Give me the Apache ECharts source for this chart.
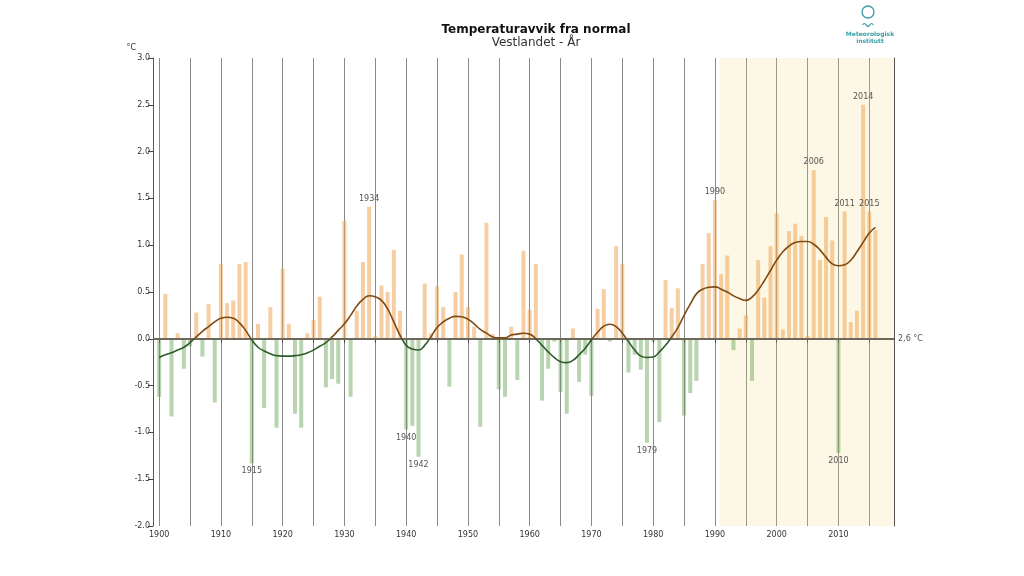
<!DOCTYPE html>
<html>
<head>
<meta charset="utf-8">
<script src="https://cdn.jsdelivr.net/npm/echarts@6/dist/echarts.min.js"></script>
<style>html,body{margin:0;padding:0;background:#fff}#c{width:1024px;height:576px}</style>
</head>
<body>
<div id="c"></div>
<script>
const years = [1900,1901,1902,1903,1904,1905,1906,1907,1908,1909,1910,1911,1912,1913,1914,1915,1916,1917,1918,1919,
1920,1921,1922,1923,1924,1925,1926,1927,1928,1929,1930,1931,1932,1933,1934,1935,1936,1937,1938,1939,
1940,1941,1942,1943,1944,1945,1946,1947,1948,1949,1950,1951,1952,1953,1954,1955,1956,1957,1958,1959,
1960,1961,1962,1963,1964,1965,1966,1967,1968,1969,1970,1971,1972,1973,1974,1975,1976,1977,1978,1979,
1980,1981,1982,1983,1984,1985,1986,1987,1988,1989,1990,1991,1992,1993,1994,1995,1996,1997,1998,1999,
2000,2001,2002,2003,2004,2005,2006,2007,2008,2009,2010,2011,2012,2013,2014,2015,2016];

const anomalies = [-0.62,0.48,-0.83,0.06,-0.32,-0.08,0.28,-0.19,0.37,-0.68,0.80,0.38,0.41,0.80,0.82,-1.33,0.16,-0.74,0.34,-0.95,
0.75,0.16,-0.80,-0.95,0.06,0.20,0.45,-0.52,-0.43,-0.48,1.26,-0.62,0.30,0.82,1.41,0.03,0.57,0.50,0.95,0.30,
-0.97,-0.93,-1.26,0.59,0.06,0.56,0.34,-0.51,0.50,0.90,0.34,0.13,-0.94,1.24,0.05,-0.54,-0.62,0.13,-0.44,0.94,
0.31,0.80,-0.66,-0.32,-0.03,-0.57,-0.80,0.11,-0.46,-0.17,-0.61,0.32,0.53,-0.03,0.99,0.80,-0.36,-0.17,-0.33,-1.11,
-0.03,-0.89,0.63,0.33,0.54,-0.82,-0.58,-0.45,0.80,1.13,1.48,0.69,0.89,-0.12,0.11,0.25,-0.45,0.84,0.44,0.99,
1.34,0.10,1.15,1.23,1.10,0.03,1.80,0.84,1.30,1.05,-1.22,1.36,0.18,0.30,2.50,1.36,1.16];

const smoothed = [-0.20,-0.17,-0.15,-0.12,-0.09,-0.04,0.02,0.08,0.13,0.18,0.22,0.23,0.22,0.17,0.09,-0.01,-0.09,-0.13,-0.16,-0.18,
-0.185,-0.185,-0.18,-0.17,-0.15,-0.12,-0.08,-0.04,0.02,0.09,0.16,0.25,0.35,0.42,0.46,0.45,0.41,0.32,0.18,0.04,
-0.07,-0.11,-0.12,-0.07,0.02,0.12,0.18,0.22,0.24,0.235,0.21,0.16,0.10,0.06,0.02,0.01,0.01,0.04,0.05,0.06,
0.05,0.00,-0.07,-0.14,-0.20,-0.245,-0.255,-0.23,-0.17,-0.10,-0.01,0.07,0.135,0.155,0.13,0.06,-0.03,-0.12,-0.185,-0.20,
-0.195,-0.14,-0.07,0.02,0.12,0.25,0.37,0.48,0.53,0.55,0.555,0.53,0.50,0.46,0.43,0.41,0.445,0.52,0.62,0.73,
0.84,0.93,0.99,1.03,1.04,1.04,1.01,0.95,0.87,0.80,0.78,0.79,0.84,0.93,1.03,1.13,1.19];

const labelledYears = [1915,1934,1940,1942,1979,1990,2006,2010,2011,2014,2015];
const xTicks = [1900,1905,1910,1915,1920,1925,1930,1935,1940,1945,1950,1955,1960,1965,1970,1975,1980,1985,1990,1995,2000,2005,2010,2015];
const xLabels = [1900,1910,1920,1930,1940,1950,1960,1970,1980,1990,2000,2010];
const xMin = 1899, xMax = 2019;
const shadeStart = 1990.75;
const normalLabel = '2,6 °C';

const FONT = 'DejaVu Sans';
const BROWN = '#7d4a12', GREEN = '#2e5a2a';
const chart = echarts.init(document.getElementById('c'), null, {renderer: 'canvas'});

const barData = years.map((y, i) => {
  const v = anomalies[i];
  const item = {
    value: [y, v],
    itemStyle: {color: v >= 0 ? 'rgba(238,165,90,0.55)' : 'rgba(100,160,80,0.45)'}
  };
  if (labelledYears.includes(y)) {
    item.label = {
      show: true,
      position: v >= 0 ? 'top' : 'bottom',
      distance: 4,
      formatter: String(y),
      fontFamily: FONT, fontSize: 8, color: '#555'
    };
  }
  return item;
});

const lineData = years.map((y, i) => [y, smoothed[i]]);

chart.setOption({
  animation: false,
  backgroundColor: '#fff',
  title: {
    text: 'Temperaturavvik fra normal',
    subtext: 'Vestlandet - År',
    left: 531, top: 19, textAlign: 'center',
    itemGap: 1,
    textStyle: {fontFamily: FONT, fontSize: 12, fontWeight: 'bold', color: '#111'},
    subtextStyle: {fontFamily: FONT, fontSize: 12, color: '#333'}
  },
  grid: {left: 153, right: 130, top: 58, bottom: 50, containLabel: false},
  xAxis: {
    type: 'value', min: xMin, max: xMax,
    axisLine: {show: true, lineStyle: {color: '#555', width: 1}},
    axisTick: {show: true, customValues: xTicks, length: 4, lineStyle: {color: '#444'}},
    axisLabel: {customValues: xLabels, formatter: v => String(v), fontFamily: FONT, fontSize: 8, color: '#333', margin: 5},
    splitLine: {show: true, customValues: xTicks, lineStyle: {color: '#8a8a8a', width: 1}}
  },
  yAxis: [{
    type: 'value', min: -2, max: 3, interval: 0.5,
    name: '°C', nameLocation: 'end', nameGap: 6,
    nameTextStyle: {fontFamily: FONT, fontSize: 8, color: '#333', align: 'right', padding: [0, 17, 0, 0]},
    axisLine: {show: true, lineStyle: {color: '#555', width: 1}},
    axisTick: {show: true, length: 5, lineStyle: {color: '#444'}},
    axisLabel: {formatter: v => v.toFixed(1), fontFamily: FONT, fontSize: 8, color: '#333', margin: 3},
    splitLine: {show: false}
  }, {
    type: 'value', min: -2, max: 3, interval: 0.5, position: 'right',
    axisLine: {show: true, lineStyle: {color: '#555', width: 1}},
    axisTick: {show: false}, axisLabel: {show: false}, splitLine: {show: false}
  }],
  graphic: [
    {type: 'circle', shape: {cx: 868, cy: 12, r: 6}, style: {fill: 'none', stroke: '#3a9ea6', lineWidth: 1.3}},
    {type: 'polyline', shape: {points: [[862.5,25],[864.3,23.5],[866.1,25],[867.9,26.5],[869.7,25],[871.5,23.5],[873.3,25]], smooth: 0.5}, style: {fill: 'none', stroke: '#3a9ea6', lineWidth: 1.2}},
    {type: 'text', x: 870, y: 34, style: {text: 'Meteorologisk', fontFamily: FONT, fontSize: 6, fontWeight: 'bold', fill: '#3a9ea6', align: 'center', verticalAlign: 'middle'}},
    {type: 'text', x: 870, y: 41, style: {text: 'institutt', fontFamily: FONT, fontSize: 6, fontWeight: 'bold', fill: '#3a9ea6', align: 'center', verticalAlign: 'middle'}}
  ],
  series: [{
    type: 'bar', name: 'avvik', data: barData, barWidth: 4, z: 3,
    markArea: {
      silent: true,
      itemStyle: {color: 'rgba(247,219,123,0.2)'},
      data: [[{xAxis: shadeStart, yAxis: 3}, {xAxis: xMax, yAxis: -2}]]
    },
    markLine: {
      silent: true, symbol: 'none',
      lineStyle: {color: '#6e675c', width: 2, type: 'solid'},
      label: {show: true, position: 'end', formatter: normalLabel, fontFamily: FONT, fontSize: 8, color: '#555', distance: 4},
      data: [{yAxis: 0}]
    }
  }, {
    type: 'line', name: 'glattet', data: lineData, smooth: true, showSymbol: false, z: 5,
    lineStyle: {width: 1.6, color: BROWN}
  }]
});

// colour the smoothed curve brown above 0 and green below 0 using a gradient split at the zero pixel
const zeroY = chart.convertToPixel({yAxisIndex: 0}, 0);
chart.setOption({
  series: [{}, {
    lineStyle: {
      color: new echarts.graphic.LinearGradient(0, zeroY - 1, 0, zeroY + 1, [
        {offset: 0, color: BROWN}, {offset: 0.5, color: BROWN},
        {offset: 0.5, color: GREEN}, {offset: 1, color: GREEN}
      ], true)
    }
  }]
});
</script>
</body>
</html>
